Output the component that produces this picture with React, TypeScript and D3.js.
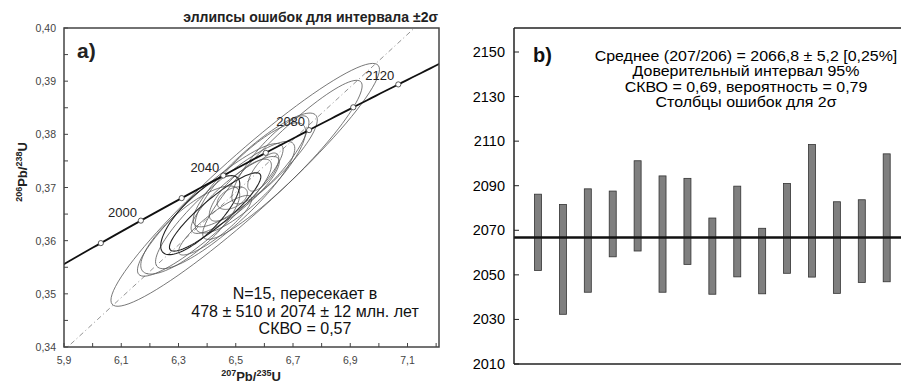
import React from 'react';
import * as d3 from 'd3';

// decay constants, 1/Ma
const L238 = 1.55125e-4;
const L235 = 9.8485e-4;

// concordia ages (Ma) marked with circles / labelled
const concordiaMarks = [1980, 2000, 2020, 2040, 2060, 2080, 2100, 2120];
const concordiaLabels = [2000, 2040, 2080, 2120];
const intercepts = [478, 2074];

// error ellipses: 207Pb/235U, 2s, 206Pb/238U, 2s, rho
const ellX = [6.533, 6.663, 6.568, 6.551, 6.498, 6.428, 6.488, 6.596, 6.411, 6.341, 6.463, 6.516, 6.376, 6.621, 6.428];
const ellSX = [0.469, 0.2785, 0.2168, 0.1931, 0.1541, 0.1596, 0.0528, 0.0542, 0.2544, 0.1728, 0.2432, 0.1085, 0.1382, 0.1347, 0.1277];
const ellY = [0.3705, 0.3752, 0.3733, 0.3718, 0.3686, 0.3654, 0.368, 0.3729, 0.3658, 0.362, 0.3667, 0.3695, 0.3648, 0.3752, 0.3629];
const ellSY = [0.02284, 0.01496, 0.0107, 0.01037, 0.00724, 0.00737, 0.00212, 0.00359, 0.01248, 0.00829, 0.01197, 0.00583, 0.00743, 0.00828, 0.0056];
const ellRho = [0.95, 0.93, 0.88, 0.84, 0.86, 0.9, 0.45, 0.7, 0.91, 0.8, 0.89, 0.8, 0.78, 0.85, 0.88];
const ellDark = [5, 12];

const xTicksA = [5.9, 6.0, 6.1, 6.2, 6.3, 6.4, 6.5, 6.6, 6.7, 6.8, 6.9, 7.0, 7.1, 7.2];
const xLabelsA = [5.9, 6.1, 6.3, 6.5, 6.7, 6.9, 7.1];
const yTicksA = [0.34, 0.345, 0.35, 0.355, 0.36, 0.365, 0.37, 0.375, 0.38, 0.385, 0.39, 0.395, 0.4];
const yLabelsA = [0.34, 0.35, 0.36, 0.37, 0.38, 0.39, 0.4];

// panel b: 207/206 ages, 2s error bars
const barHigh = [2086.2, 2081.6, 2088.6, 2087.6, 2101.2, 2094.4, 2093.3, 2075.5, 2089.8, 2070.9, 2091.0, 2108.5, 2082.8, 2083.7, 2104.3];
const barLow = [2052.0, 2032.3, 2042.2, 2058.1, 2060.7, 2042.2, 2054.7, 2041.3, 2049.1, 2041.5, 2050.7, 2049.0, 2041.7, 2046.6, 2046.9];
const meanAge = 2066.8;
const yTicksB = [2010, 2030, 2050, 2070, 2090, 2110, 2130, 2150];

const textB = [
  'Среднее (207/206) = 2066,8 ± 5,2 [0,25%]',
  'Доверительный интервал 95%',
  'СКВО = 0,69, вероятность = 0,79',
  'Столбцы ошибок для 2σ',
];
const textA = ['N=15, пересекает в', '478 ± 510 и 2074 ± 12 млн. лет', 'СКВО = 0,57'];

const font = 'Arial, "Liberation Sans", sans-serif';
const comma = (v: number, d: number) => v.toFixed(d).replace('.', ',');

const concordia = (t: number) => [Math.exp(L235 * t) - 1, Math.exp(L238 * t) - 1];

export default function App() {
  const x = d3.scaleLinear().domain([5.9, 7.21]).range([64, 439]);
  const y = d3.scaleLinear().domain([0.34, 0.4]).range([347, 28]);

  const line = d3.line<number[]>().x(d => x(d[0])).y(d => y(d[1]));
  const concPts = d3.range(1940, 2161, 2).map(concordia);

  const [lo, up] = intercepts.map(concordia);
  const slope = (up[1] - lo[1]) / (up[0] - lo[0]);
  const discPts = [5.8, 7.3].map(v => [v, up[1] + (v - up[0]) * slope]);

  const ellipse = (i: number) => {
    const r = ellRho[i];
    const pts = d3.range(0, 97).map(k => {
      const t = (k / 96) * Math.PI * 2;
      return [ellX[i] + ellSX[i] * Math.cos(t), ellY[i] + ellSY[i] * (r * Math.cos(t) + Math.sqrt(1 - r * r) * Math.sin(t))];
    });
    return line(pts);
  };

  const yb = d3.scaleLinear().domain([2010, 2150]).range([364, 52]);
  const xb = d3.scalePoint<number>().domain(d3.range(barHigh.length)).range([538, 886.7]);
  const barW = 7;

  return (
    <svg width={901} height={387} style={{ position: 'absolute', left: 0, top: 0, background: '#fff' }} fontFamily={font}>
      <defs>
        <clipPath id="clipA">
          <rect x={64} y={28} width={375} height={319} />
        </clipPath>
      </defs>

      {/* panel a */}
      <text x={438} y={22} textAnchor="end" fontSize={14} fontWeight="bold" fill="#222">
        эллипсы ошибок для интервала ±2σ
      </text>
      <g clipPath="url(#clipA)">
        <path d={line(discPts) || ''} fill="none" stroke="#777" strokeWidth={0.8} strokeDasharray="5,3,1,3" />
        {ellX.map((_, i) => (
          <path key={i} d={ellipse(i) || ''} fill="none" stroke={ellDark.includes(i) ? '#222' : '#555'} strokeWidth={ellDark.includes(i) ? 1.1 : 0.8} />
        ))}
        <path d={line(concPts) || ''} fill="none" stroke="#111" strokeWidth={1.8} />
        {concordiaMarks.map(t => {
          const p = concordia(t);
          return <circle key={t} cx={x(p[0])} cy={y(p[1])} r={2.6} fill="#fff" stroke="#333" strokeWidth={0.8} />;
        })}
        {concordiaLabels.map(t => {
          const p = concordia(t);
          return (
            <text key={t} x={x(p[0]) - 4} y={y(p[1]) - 4} textAnchor="end" fontSize={13} fill="#222">
              {t}
            </text>
          );
        })}
      </g>
      <rect x={64} y={28} width={375} height={319} fill="none" stroke="#444" strokeWidth={1.5} />
      {xTicksA.map(v => (
        <line key={v} x1={x(v)} x2={x(v)} y1={347} y2={343} stroke="#444" />
      ))}
      {yTicksA.map(v => (
        <line key={v} x1={64} x2={68} y1={y(v)} y2={y(v)} stroke="#444" />
      ))}
      {xLabelsA.map(v => (
        <text key={v} x={x(v)} y={364} textAnchor="middle" fontSize={10.5} fill="#444">
          {comma(v, 1)}
        </text>
      ))}
      {yLabelsA.map(v => (
        <text key={v} x={56} y={y(v) + 4} textAnchor="end" fontSize={10.5} fill="#444">
          {comma(v, 2)}
        </text>
      ))}
      <text x={251} y={381} textAnchor="middle" fontWeight="bold" fontSize={13} fill="#222">
        <tspan fontSize={9} dy={-5}>207</tspan>
        <tspan dy={5}>Pb/</tspan>
        <tspan fontSize={9} dy={-5}>235</tspan>
        <tspan dy={5}>U</tspan>
      </text>
      <text transform="translate(27,172) rotate(-90)" textAnchor="middle" fontWeight="bold" fontSize={13} fill="#222">
        <tspan fontSize={9} dy={-5}>206</tspan>
        <tspan dy={5}>Pb/</tspan>
        <tspan fontSize={9} dy={-5}>238</tspan>
        <tspan dy={5}>U</tspan>
      </text>
      <text x={77} y={58} fontSize={21} fontWeight="bold" fill="#222">a)</text>
      {textA.map((s, i) => (
        <text key={i} x={305} y={299 + i * 17.5} textAnchor="middle" fontSize={16} fill="#111">
          {s}
        </text>
      ))}

      {/* panel b */}
      {barHigh.map((h, i) => (
        <rect key={i} x={(xb(i) as number) - barW / 2} y={yb(h)} width={barW} height={yb(barLow[i]) - yb(h)} fill="#7f7f7f" stroke="#333" strokeWidth={0.8} />
      ))}
      <line x1={514} x2={901} y1={yb(meanAge)} y2={yb(meanAge)} stroke="#111" strokeWidth={2.5} />
      <line x1={514} x2={514} y1={28} y2={364} stroke="#222" strokeWidth={1.5} />
      <line x1={514} x2={901} y1={28} y2={28} stroke="#222" strokeWidth={1.5} />
      <line x1={514} x2={901} y1={364} y2={364} stroke="#222" strokeWidth={1.5} />
      {yTicksB.map(v => (
        <g key={v}>
          <line x1={514} x2={519} y1={yb(v)} y2={yb(v)} stroke="#222" />
          <text x={505} y={yb(v) + 5} textAnchor="end" fontSize={14.5} fill="#000">
            {v}
          </text>
        </g>
      ))}
      <text x={533} y={62} fontSize={20} fontWeight="bold" fill="#111">b)</text>
      <g transform="translate(746,0) scale(1.1,1)">
        {textB.map((s, i) => (
          <text key={i} x={0} y={61 + i * 15.4} textAnchor="middle" fontSize={14.5} fill="#000">
            {s}
          </text>
        ))}
      </g>
    </svg>
  );
}
